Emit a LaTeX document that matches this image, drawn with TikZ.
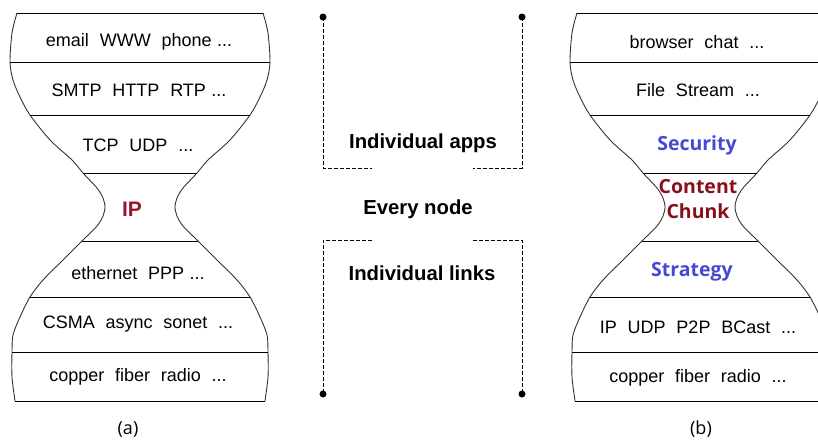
\documentclass[tikz,border=0pt]{standalone}
\usepackage{fontspec}
\setmainfont{Liberation Sans}
\newfontfamily\osans{Open Sans}
\definecolor{ipred}{RGB}{155,20,45}
\definecolor{chred}{RGB}{135,15,25}
\definecolor{secblue}{RGB}{70,72,212}
\newcommand{\wg}{\hspace{0.6em}}
\tikzset{
  outline/.style={line width=0.9pt, draw=black!80},
  divider/.style={line width=0.9pt, draw=black},
  layer/.style={font=\fontsize{18}{20}\selectfont, inner sep=0pt, anchor=center},
  midlabel/.style={font=\fontsize{20.3}{22}\selectfont\bfseries, inner sep=0pt},
  keylabel/.style={font=\osans\fontsize{19.5}{25}\selectfont\bfseries, inner sep=0pt, align=center},
  figcaption/.style={font=\osans\fontsize{18}{20}\selectfont, inner sep=0pt},
  bracket/.style={dashed, dash pattern=on 4pt off 2pt, line width=0.8pt},
  dot/.style={circle, fill=black, inner sep=0pt, minimum size=7pt}
}
\begin{document}
\begin{tikzpicture}[x=1pt,y=-1pt]
\useasboundingbox (0,0) rectangle (818,445);
\begin{scope}
\clip (0,0) rectangle (818,445);
\foreach \s in {0,560}{
\begin{scope}[shift={(\s,0)}]
  \draw[outline] plot[smooth, tension=0.5] coordinates {(17,13) (12,33) (10,62) (13,80) (20,97) (30,115) (50,140) (72,160) (83,173) (97,188) (103,198) (105,207) (103,216) (97,226) (82,241) (63,260) (43,280) (30,297) (20,317) (13,335) (12,352) (12,377) (15,401)};
  \draw[outline] plot[smooth, tension=0.5] coordinates {(263,13) (268,33) (270,62) (267,80) (260,97) (250,115) (230,140) (208,160) (197,173) (183,188) (177,198) (175,207) (177,216) (183,226) (198,241) (217,260) (237,280) (250,297) (260,317) (267,335) (268,352) (268,377) (265,401)};
  \draw[divider] (17,13) -- (263,13);
  \draw[divider] (10,62) -- (270,62);
  \draw[divider] (30,115) -- (250,115);
  \draw[divider] (83,173) -- (197,173);
  \draw[divider] (82,241) -- (198,241);
  \draw[divider] (30,297) -- (250,297);
  \draw[divider] (12,352) -- (268,352);
  \draw[divider] (15,401) -- (265,401);
\end{scope}
}
\end{scope}
% left hourglass texts
\node[layer] (a1) at (139,42) {email\wg WWW\wg phone\hspace{0.3em}...};
\node[layer] (a2) at (139,90) {SMTP\wg HTTP\wg RTP\hspace{0.3em}...};
\node[layer] (a3) at (138,145) {TCP\wg UDP\wg ...};
\node[font=\fontsize{21}{23}\selectfont\bfseries, text=ipred, inner sep=0pt] (a4) at (132,209) {IP};
\node[layer] (a5) at (138,273) {ethernet\wg PPP\hspace{0.3em}...};
\node[layer] (a6) at (138,324) {CSMA\wg async\wg sonet\wg ...};
\node[layer] (a7) at (138,377) {copper\wg fiber\wg radio\wg ...};
\node[figcaption] (capa) at (128,429) {(a)};
% right hourglass texts
\node[layer] (b1) at (697,42) {browser\wg chat\wg ...};
\node[layer] (b2) at (698,90) {File\wg Stream\wg ...};
\node[keylabel, text=secblue] (b3) at (697,145) {Security};
\node[keylabel, text=chred] (b4) at (698,199) {Content\\Chunk};
\node[keylabel, text=secblue] (b5) at (692,272) {Strategy};
\node[layer] (b6) at (698,327) {IP\wg UDP\wg P2P\wg BCast\wg ...};
\node[layer] (b7) at (698,378) {copper\wg fiber\wg radio\wg ...};
\node[figcaption] (capb) at (701,429) {(b)};
% middle
\node[midlabel] (m1) at (423,143) {Individual apps};
\node[midlabel] (m2) at (418,209) {Every node};
\node[midlabel] (m3) at (422,273) {Individual links};
\node[dot] (d1) at (323,17) {};
\node[dot] (d2) at (522,17) {};
\node[dot] (d3) at (323,394) {};
\node[dot] (d4) at (522,394) {};
\coordinate (c1) at (323,168);
\coordinate (e1) at (372,168);
\coordinate (c2) at (522,168);
\coordinate (e2) at (473,168);
\coordinate (c3) at (323,240);
\coordinate (e3) at (372,240);
\coordinate (c4) at (522,240);
\coordinate (e4) at (473,240);
\draw[bracket] (d1.center) -- (c1) -- (e1);
\draw[bracket] (d2.center) -- (c2) -- (e2);
\draw[bracket] (e3) -- (c3) -- (d3.center);
\draw[bracket] (e4) -- (c4) -- (d4.center);
\end{tikzpicture}
\end{document}
